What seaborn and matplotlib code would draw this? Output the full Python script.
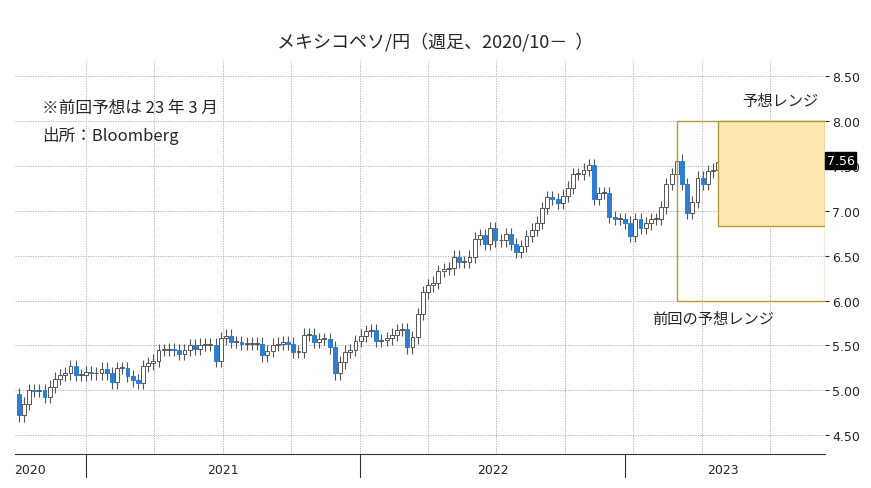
import numpy as np
import matplotlib
matplotlib.use("Agg")
import matplotlib.pyplot as plt
import seaborn as sns
from matplotlib.patches import Rectangle

closes = [4.72,4.85,5.00,4.99,5.00,4.93,5.04,5.13,5.17,5.19,5.27,5.17,5.17,5.20,5.19,5.19,5.24,5.19,5.09,5.25,
          5.25,5.16,5.11,5.08,5.27,5.30,5.33,5.45,5.45,5.46,5.45,5.41,5.45,5.50,5.46,5.51,5.51,5.51,5.33,5.58,
          5.61,5.54,5.54,5.52,5.52,5.52,5.52,5.39,5.44,5.51,5.52,5.54,5.52,5.43,5.43,5.62,5.62,5.54,5.57,5.57,
          5.48,5.19,5.31,5.43,5.45,5.55,5.61,5.66,5.67,5.55,5.56,5.58,5.62,5.67,5.68,5.48,5.59,5.85,6.09,6.17,
          6.20,6.33,6.35,6.36,6.49,6.43,6.43,6.49,6.69,6.73,6.63,6.81,6.67,6.67,6.74,6.63,6.54,6.61,6.72,6.79,
          6.87,7.03,7.15,7.13,7.09,7.17,7.26,7.41,7.41,7.46,7.51,7.13,7.20,7.20,6.93,6.91,6.91,6.87,6.72,6.91,
          6.81,6.86,6.91,6.91,7.04,7.30,7.41,7.56,7.30,6.98,7.10,7.37,7.30,7.44,7.46,7.54,7.56]
first_open = 4.96
yticks = [4.5,5.0,5.5,6.0,6.5,7.0,7.5,8.0,8.5]
year_labels = ["2020","2021","2022","2023"]
year_starts = [13, 65.8, 117]
prev_range = (6.0, 8.0)
new_range = (6.83, 8.0)

opens = [first_open] + closes[:-1]
highs = [max(o, c) + 0.07 for o, c in zip(opens, closes)]
lows = [min(o, c) - 0.07 for o, c in zip(opens, closes)]

sns.set_style("white")
plt.rcParams["font.family"] = ["Noto Sans CJK JP"]
fig = plt.figure(figsize=(8.71, 4.89), dpi=100)
ax = fig.add_axes([15/871, 1-455/489, 810/871, (455-62)/489])
x = np.arange(len(closes))
W = 0.75
for i in x:
    o, c = opens[i], closes[i]
    up = c >= o
    ax.vlines(i, lows[i], highs[i], color="#555555", lw=0.8, zorder=2)
    b = max(abs(c - o), 0.008)
    ax.add_patch(Rectangle((i - W/2, min(o, c)), W, b, facecolor="white" if up else "#2a7fd4",
                           edgecolor="#555555" if up else "#2a7fd4", lw=0.7, zorder=3))

xmax = 155.6
ax.set_xlim(-0.7, xmax)
ax.set_ylim(4.29, 8.67)
ax.yaxis.tick_right()
ax.set_yticks(yticks)
ax.set_yticklabels([f"{v:.2f}" for v in yticks], fontsize=9, family="DejaVu Sans")
for v in yticks:
    ax.axhline(v, color="#aaaaaa", ls=(0, (1.5, 1.5)), lw=0.6, zorder=0)
for q in np.arange(13, xmax, 13.2):
    ax.axvline(q, color="#aaaaaa", ls=(0, (1.5, 1.5)), lw=0.6, zorder=0)
ax.set_xticks([])
for s in ["top", "left", "right"]:
    ax.spines[s].set_visible(False)
ax.spines["bottom"].set_color("#333333")
ax.tick_params(axis="y", length=3, pad=2)

# ranges
ax.add_patch(Rectangle((127, prev_range[0]), xmax - 127, prev_range[1] - prev_range[0],
                       fill=False, edgecolor="#b89a3c", lw=1, zorder=4))
ax.add_patch(Rectangle((135, new_range[0]), xmax - 135, new_range[1] - new_range[0],
                       facecolor="#fde9b0", edgecolor="#b89a3c", lw=1, zorder=4))
ax.text(147, 8.13, "予想レンジ", fontsize=11, ha="center", va="bottom")
ax.text(134, 5.9, "前回の予想レンジ", fontsize=11, ha="center", va="top")
ax.text(xmax + 0.3, closes[-1], "7.56", fontsize=9, color="white", ha="left", va="center",
        family="DejaVu Sans", bbox=dict(boxstyle="square,pad=0.15", fc="black", ec="black"),
        zorder=10, clip_on=False)

ax.text(4.5, 8.15, "※前回予想は 23 年 3 月", fontsize=12, va="center")
ax.text(4.5, 7.84, "出所：Bloomberg", fontsize=12, va="center")

# year separators and labels
for ys in year_starts:
    ax.plot([ys, ys], [4.29, 4.03], color="#333333", lw=0.8, clip_on=False)
label_pos = [2.2, 39.5, 91.5, 136]
for lbl, p in zip(year_labels, label_pos):
    ax.text(p, 4.12, lbl, fontsize=9, ha="center", va="center", family="DejaVu Sans")

fig.text(0.5, 1-42/489, "メキシコペソ/円（週足、2020/10－  ）", ha="center", va="center", fontsize=13)
fig.savefig("out.png", dpi=100)
